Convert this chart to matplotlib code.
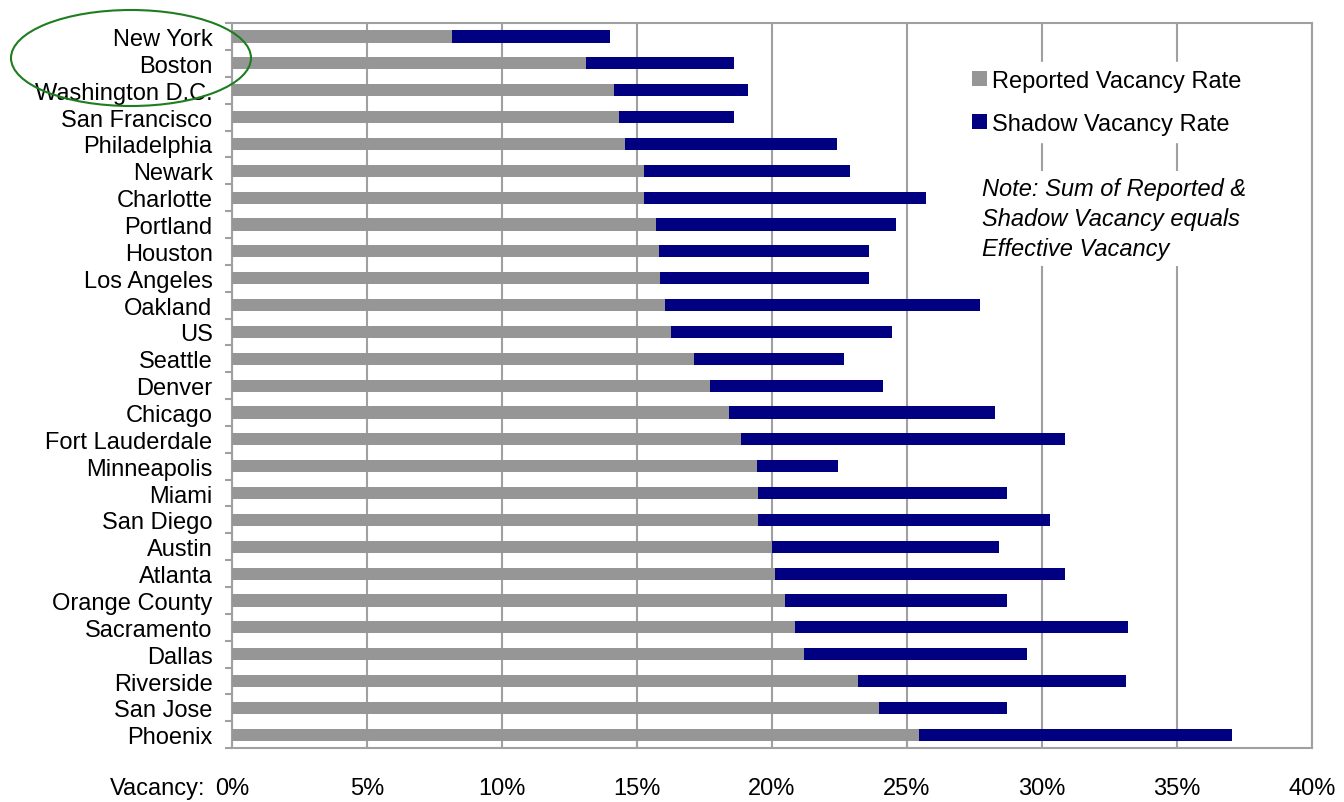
import matplotlib
matplotlib.use("Agg")
import matplotlib.pyplot as plt
from matplotlib.patches import Ellipse
from matplotlib.ticker import MultipleLocator, FuncFormatter

plt.rcParams['font.family'] = ['Liberation Sans', 'DejaVu Sans']

# metros, top to bottom
cities = ["New York", "Boston", "Washington D.C.", "San Francisco", "Philadelphia",
          "Newark", "Charlotte", "Portland", "Houston", "Los Angeles", "Oakland", "US",
          "Seattle", "Denver", "Chicago", "Fort Lauderdale", "Minneapolis", "Miami",
          "San Diego", "Austin", "Atlanta", "Orange County", "Sacramento", "Dallas",
          "Riverside", "San Jose", "Phoenix"]

# reported vacancy (%)
reported = [8.15, 13.1, 14.15, 14.35, 14.55, 15.25, 15.25, 15.7, 15.8, 15.85, 16.05, 16.25,
            17.1, 17.7, 18.4, 18.85, 19.45, 19.5, 19.5, 20.0, 20.1, 20.5, 20.85, 21.2,
            23.2, 23.95, 25.45]
# effective vacancy = reported + shadow (%)
effective = [14.0, 18.6, 19.1, 18.6, 22.4, 22.9, 25.7, 24.6, 23.6, 23.6, 27.7, 24.45,
             22.65, 24.1, 28.25, 30.85, 22.45, 28.7, 30.3, 28.4, 30.85, 28.7, 33.2, 29.45,
             33.1, 28.7, 37.05]
shadow = [e - r for e, r in zip(effective, reported)]

grey = "#969696"
navy = "#000080"
edge = "#a0a0a0"
fs = 17

fig = plt.figure(figsize=(13.44, 8.03), dpi=100)
ax = fig.add_axes([0.1726, 0.067, 0.8036, 0.903])

ypos = list(range(len(cities)))
ax.barh(ypos, reported, height=0.45, color=grey, zorder=3, label="Reported Vacancy Rate")
ax.barh(ypos, shadow, left=reported, height=0.45, color=navy, zorder=3,
        label="Shadow Vacancy Rate")

ax.set_xlim(0, 40)
ax.set_ylim(26.5, -0.5)
ax.xaxis.set_major_locator(MultipleLocator(5))
ax.xaxis.set_major_formatter(FuncFormatter(lambda v, p: f"{v:.0f}%"))
ax.grid(axis="x", color=edge, linewidth=1.5, zorder=0)

ax.set_yticks(ypos)
ax.set_yticklabels(cities, fontsize=fs)
# small outward ticks between categories
ax.set_yticks([i - 0.5 for i in range(len(cities) + 1)], minor=True)
ax.tick_params(axis="y", which="major", length=0, pad=14)
ax.tick_params(axis="y", which="minor", length=5, width=1.5, color=edge)
ax.tick_params(axis="x", length=0, pad=21, labelsize=fs)

for s in ax.spines.values():
    s.set_color(edge)
    s.set_linewidth(1.5)

ax.annotate("Vacancy:", xy=(0, 0), xycoords=("data", "axes fraction"),
            xytext=(-19, -21), textcoords="offset points", ha="right", va="top",
            fontsize=fs)

# legend on a white patch so gridlines stop behind it
leg = ax.legend(loc="upper left", bbox_to_anchor=(0.668, 0.962), frameon=True,
                fontsize=fs, handlelength=0.62, handleheight=0.62, handletextpad=0.2,
                labelspacing=0.9, borderpad=0.3)
leg.get_frame().set_edgecolor("white")
leg.get_frame().set_facecolor("white")
leg.get_frame().set_alpha(1)

ax.text(0.694, 0.788, "Note: Sum of Reported &\nShadow Vacancy equals\nEffective Vacancy",
        transform=ax.transAxes, ha="left", va="top", fontsize=fs, style="italic",
        linespacing=1.4, zorder=5,
        bbox=dict(facecolor="white", edgecolor="none", pad=4))

# highlight around the top two metros
fig.patches.append(Ellipse((131 / 1344, 1 - 59 / 803), 240 / 1344, 96 / 803,
                           transform=fig.transFigure, fill=False,
                           edgecolor="#1e7d1e", linewidth=1.5))

fig.savefig("out.png", dpi=100)
